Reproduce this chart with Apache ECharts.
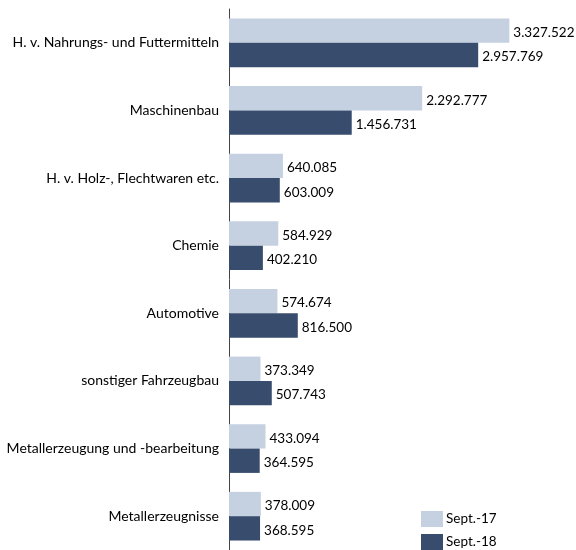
<!DOCTYPE html>
<html><head><meta charset="utf-8">
<script src="https://cdn.jsdelivr.net/npm/echarts@6/dist/echarts.min.js"></script>
<style>html,body{margin:0;padding:0;background:#fff}#c{width:576px;height:550px}</style>
</head><body><div id="c"></div>
<script>
const categories = ["H. v. Nahrungs- und Futtermitteln","Maschinenbau","H. v. Holz-, Flechtwaren etc.","Chemie","Automotive","sonstiger Fahrzeugbau","Metallerzeugung und -bearbeitung","Metallerzeugnisse"];
const sept17 = [3327522,2292777,640085,584929,574674,373349,433094,378009];
const sept18 = [2957769,1456731,603009,402210,816500,507743,364595,368595];
const seriesNames = ["Sept.-17","Sept.-18"];
const fmt = v => String(v).replace(/\B(?=(\d{3})+(?!\d))/g, ".");
const font = "Lato, 'Open Sans', sans-serif";
const chart = echarts.init(document.getElementById('c'));
const legendBase = {left:416,itemWidth:22,itemHeight:16,icon:'rect',padding:[0,5],
    textStyle:{fontSize:13.5,color:'#000',fontFamily:font,padding:[0,0,0,-2]}};
chart.setOption({
  animation:false,
  textStyle:{fontFamily:font},
  grid:{left:229,width:337,top:9,height:546},
  legend:[
    Object.assign({},legendBase,{top:511,data:[seriesNames[0]]}),
    Object.assign({},legendBase,{top:534,data:[seriesNames[1]]})
  ],
  xAxis:{type:'value',min:0,max:4000000,show:false},
  yAxis:{type:'category',inverse:true,data:categories,
    axisLine:{lineStyle:{color:'#444',width:1}},axisTick:{show:false},
    axisLabel:{fontSize:14,color:'#000',margin:10,fontFamily:font}},
  series:[
    {name:seriesNames[0],type:'bar',data:sept17,barGap:'0%',barCategoryGap:'28%',
     itemStyle:{color:'#c5d0e1'},
     label:{show:true,position:'right',distance:4,offset:[0,2],fontSize:13.5,color:'#000',fontFamily:font,formatter:p=>fmt(p.value)}},
    {name:seriesNames[1],type:'bar',data:sept18,barGap:'0%',barCategoryGap:'28%',
     itemStyle:{color:'#384d6e'},
     label:{show:true,position:'right',distance:4,offset:[0,2],fontSize:13.5,color:'#000',fontFamily:font,formatter:p=>fmt(p.value)}}
  ]
});
</script></body></html>
